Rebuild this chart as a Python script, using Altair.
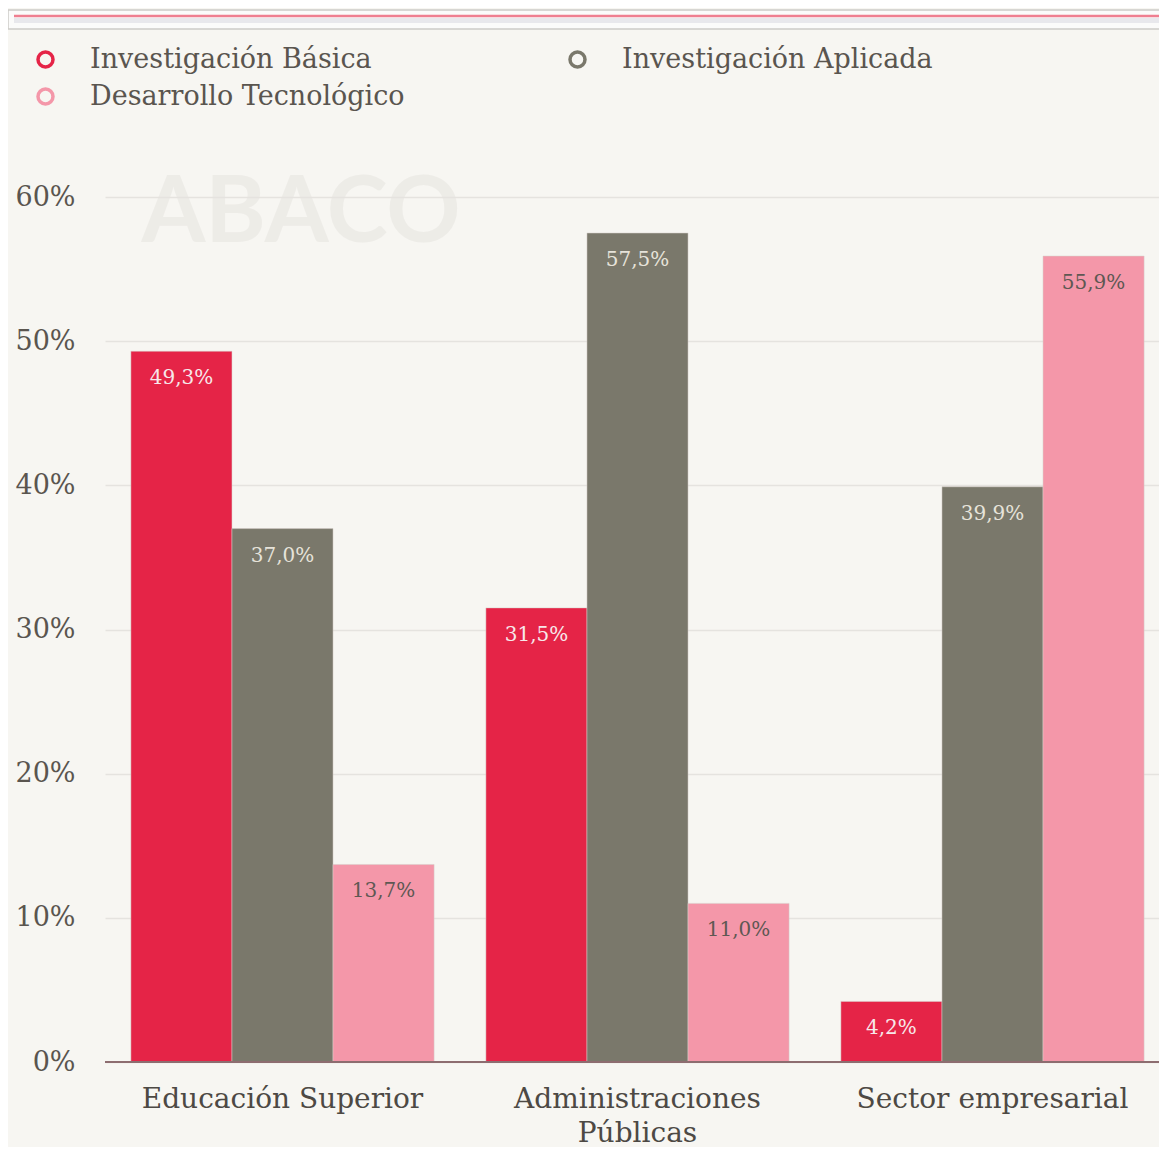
import altair as alt
import pandas as pd

categories = ["Educación Superior", "Administraciones Públicas", "Sector empresarial"]
series = ["Investigación Básica", "Investigación Aplicada", "Desarrollo Tecnológico"]
basica = [49.3, 31.5, 4.2]
aplicada = [37.0, 57.5, 39.9]
desarrollo = [13.7, 11.0, 55.9]
y_ticks = [0, 10, 20, 30, 40, 50, 60]

rows = []
for s, vals in zip(series, [basica, aplicada, desarrollo]):
    for c, v in zip(categories, vals):
        rows.append({"categoria": c, "serie": s, "valor": v,
                     "etiqueta": f"{v:.1f}".replace(".", ",") + "%"})
df = pd.DataFrame(rows)
one = pd.DataFrame({"k": [0]})

W, H = 1054, 865
FONT = "DejaVu Serif"
BG = "#f7f6f2"
bar_colors = ["#e52447", "#7a786b", "#f497a9"]
label_colors = ["#f7e8ea", "#e6e3da", "#5e5853"]

x_enc = alt.X(
    "categoria:N", sort=categories,
    scale=alt.Scale(range=[0, 1065], paddingInner=0.146, paddingOuter=0.073),
    axis=alt.Axis(title=None, labelAngle=0, ticks=False, domain=False,
                  labelFont=FONT, labelFontSize=28, labelLimit=500,
                  labelColor="#4d4944", labelPadding=23, labelLineHeight=34,
                  labelExpr="length(datum.label) > 20 ? split(datum.label, ' ') : datum.label"),
)
xo_enc = alt.XOffset("serie:N", sort=series, scale=alt.Scale(paddingInner=0, paddingOuter=0))
y_enc = alt.Y(
    "valor:Q", scale=alt.Scale(domain=[0, 60], nice=False),
    axis=alt.Axis(title=None, values=y_ticks, labelExpr="datum.value + '%'",
                  domain=False, ticks=False, grid=True, gridColor="#e5e3df",
                  gridWidth=1.5, labelFont=FONT, labelFontSize=27,
                  labelColor="#5a554f", labelPadding=30),
)

decor_box = alt.Chart(one).mark_rect(fill="#fbfbfa", stroke="#cdcbc7", strokeWidth=1.5).encode(
    x=alt.value(-97), x2=alt.value(1070), y=alt.value(-187), y2=alt.value(-168))
decor_shade = alt.Chart(one).mark_rect(fill="#e8e8ec").encode(
    x=alt.value(-91), x2=alt.value(1070), y=alt.value(-179), y2=alt.value(-174))
decor_line = alt.Chart(one).mark_rule(color="#ef7f90", strokeWidth=2.5).encode(
    x=alt.value(-91), x2=alt.value(1070), y=alt.value(-181))

watermark = alt.Chart(one).mark_text(
    text="ABACO", font="Lato", fontSize=92, fontWeight="bold", color="#e6e4df",
    opacity=0.55, align="center", baseline="middle").encode(
    x=alt.value(196), y=alt.value(17))

baseline_rule = alt.Chart(one).mark_rule(color="#8d6d70", strokeWidth=2).encode(
    y=alt.datum(0), x=alt.value(0), x2=alt.value(W))

bars = alt.Chart(df).mark_bar(stroke="#d8d0cc", strokeWidth=1, strokeOpacity=0.5).encode(
    x=x_enc, xOffset=xo_enc, y=y_enc,
    fill=alt.Fill("serie:N", sort=series,
                  scale=alt.Scale(domain=series, range=bar_colors), legend=None),
)

legend_pts = alt.Chart(df).mark_point(shape="circle", filled=False, opacity=0).encode(
    x=x_enc, xOffset=xo_enc, y=y_enc,
    color=alt.Color(
        "serie:N", sort=series,
        scale=alt.Scale(domain=series, range=bar_colors),
        legend=alt.Legend(
            title=None, orient="none", legendX=-73, legendY=-151, columns=2,
            direction="horizontal",
            symbolType="circle", symbolSize=225, symbolStrokeWidth=3.5,
            symbolFillColor="transparent", symbolOpacity=1,
            labelFont=FONT, labelFontSize=27, labelColor="#5a554f",
            labelOffset=31, columnPadding=158, rowPadding=8, labelLimit=500,
        ),
    ),
)

labels = alt.Chart(df).mark_text(dy=27, baseline="middle", align="center",
                                 font=FONT, fontSize=20).encode(
    x=x_enc, xOffset=xo_enc, y=y_enc,
    text="etiqueta:N",
    color=alt.Color("serie:N", scale=alt.Scale(domain=series, range=label_colors), legend=None),
)

chart = alt.layer(decor_box, decor_shade, decor_line, watermark, bars, baseline_rule,
                  legend_pts, labels).resolve_scale(
    color="independent"
).properties(
    width=W, height=H, background=BG,
    autosize=alt.AutoSizeParams(type="none"),
    padding={"left": 97, "top": 189, "right": 0, "bottom": 85},
).configure_view(stroke=None)

chart.save("out.html", embed_options={"renderer": "svg", "actions": False})
